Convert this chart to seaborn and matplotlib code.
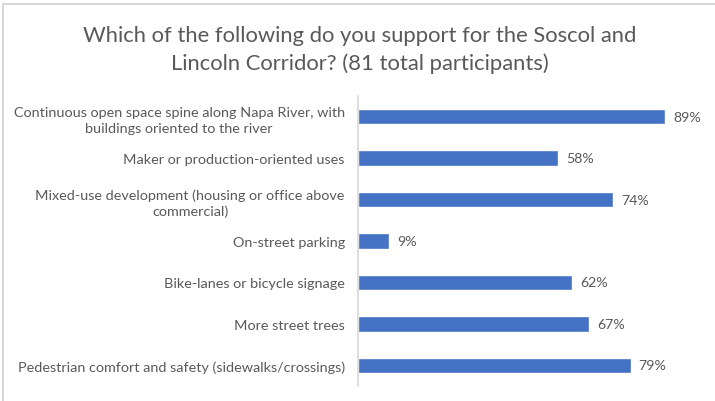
import matplotlib
matplotlib.use('Agg')
import matplotlib.pyplot as plt
import matplotlib.lines as mlines
import seaborn as sns
import pandas as pd

# Survey data
options = [
    'Continuous open space spine along Napa River, with\nbuildings oriented to the river',
    'Maker or production-oriented uses',
    'Mixed-use development (housing or office above\ncommercial)',
    'On-street parking',
    'Bike-lanes or bicycle signage',
    'More street trees',
    'Pedestrian comfort and safety (sidewalks/crossings)',
]
support_pct = [89, 58, 74, 9, 62, 67, 79]
title = 'Which of the following do you support for the Soscol and\nLincoln Corridor? (81 total participants)'

df = pd.DataFrame({'option': options, 'pct': support_pct})

sns.set_theme(style='white')
plt.rcParams['font.family'] = ['Lato', 'DejaVu Sans']

text_col = '#595959'
bar_col = '#4472C4'

fig = plt.figure(figsize=(7.15, 4.02), dpi=100)
ax = fig.add_axes([358 / 715, 15 / 402, 345 / 715, 290 / 402])

sns.barplot(data=df, x='pct', y='option', color=bar_col, width=0.37,
            saturation=1, ax=ax, orient='h')

ax.set_xlim(0, 100)
ax.set_ylim(len(options) - 0.5, -0.5)
ax.set_xlabel('')
ax.set_ylabel('')
ax.set_xticks([])
ax.tick_params(axis='y', length=0, pad=9.5, labelsize=10.4, labelcolor=text_col)
for lbl in ax.get_yticklabels():
    lbl.set_multialignment('center')
    lbl.set_linespacing(1.4)

for s in ['top', 'right', 'bottom']:
    ax.spines[s].set_visible(False)
ax.spines['left'].set_color('#d9d9d9')
ax.spines['left'].set_linewidth(1.2)

for i, v in enumerate(support_pct):
    ax.text(v + 2.3, i, f'{v}%', va='center', ha='left', fontsize=10.2, color=text_col)

fig.text(0.503, 0.935, title, ha='center', va='top', fontsize=15.8,
         color=text_col, linespacing=1.45)

# light frame at top and left
fig.add_artist(mlines.Line2D([3 / 715, 1], [1 - 5 / 402, 1 - 5 / 402], color='#d0d0d0', lw=1.2))
fig.add_artist(mlines.Line2D([3 / 715, 3 / 715], [0, 1 - 5 / 402], color='#d0d0d0', lw=1.2))

fig.savefig('out.png', dpi=100, facecolor='white')
